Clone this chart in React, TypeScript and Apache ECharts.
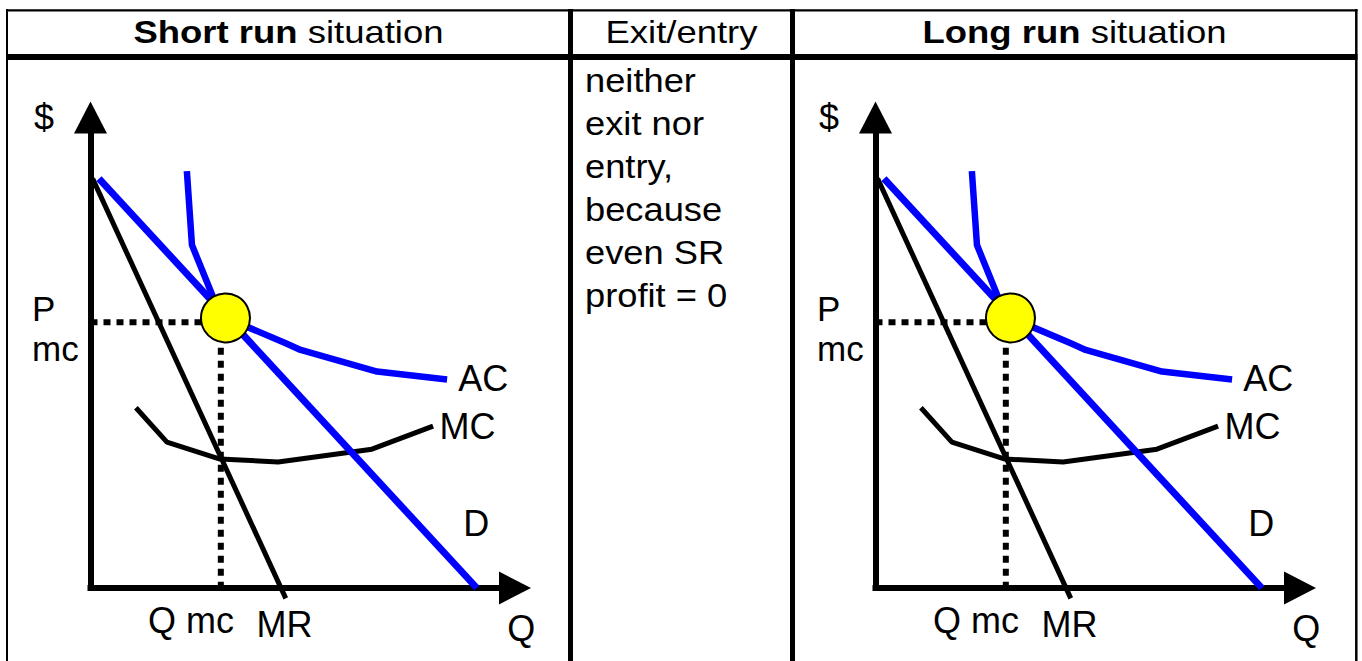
import React, { useEffect, useRef } from "react";
import * as echarts from "echarts";

// ---------- data (Q on x, $ on y; both axes 0..10) ----------
const demandD: number[][] = [[0.2, 8.7], [9.1, 0]];
const marginalRevenueMR: number[][] = [[0.05, 8.7], [4.6, -0.22]];
const averageCostAC: number[][] = [
  [2.27, 8.86], [2.39, 7.29], [2.88, 6.2], [3.17, 5.74], [3.69, 5.55],
  [4.6, 5.2], [4.95, 5.06], [6.75, 4.6], [8.4, 4.43],
];
const marginalCostMC: number[][] = [
  [1.07, 3.83], [1.8, 3.1], [3.05, 2.74], [4.42, 2.68], [6.63, 2.95], [8.07, 3.44],
];
const qMC = 3.07;
const pMC = 5.65;
const equilibrium: number[] = [3.18, 5.74];

const headers = ["Short run", "situation", "Exit/entry", "Long run", "situation"];
const middleLines = ["neither", "exit nor", "entry,", "because", "even SR", "profit = 0"];

// label anchors in data units: [Q, $, text, align, fontSize]
const curveLabels: [number, number, string, string, number][] = [
  [-1.095, 10.01, "$", "center", 36],
  [-1.378, 5.94, "P", "left", 35],
  [-1.378, 5.09, "mc", "left", 35],
  [9.25, 4.45, "AC", "center", 36],
  [8.88, 3.43, "MC", "center", 36],
  [9.09, 1.38, "D", "center", 36],
  [2.37, -0.7, "Q mc", "center", 36],
  [4.57, -0.776, "MR", "center", 36],
  [10.15, -0.87, "Q", "center", 36],
];

const FONT = "'Liberation Sans', Arial, Helvetica, sans-serif";
const BLUE = "#0000ff";

export default function App() {
  const ref = useRef<HTMLDivElement>(null);

  useEffect(() => {
    if (!ref.current) return;
    const chart = echarts.init(ref.current, undefined, { renderer: "svg" });

    const gridTop = 117.5;
    const gridH = 470.5;
    const gridW = 424.5;
    const lefts = [90.5, 875.5];

    const grids = lefts.map((l) => ({ left: l, top: gridTop, width: gridW, height: gridH }));

    const axisLine = {
      show: true,
      symbol: ["none", "triangle"],
      symbolSize: [33, 32],
      lineStyle: { color: "#000", width: 6, cap: "square" },
    };

    const xAxes = lefts.map((_, i) => ({
      type: "value", gridIndex: i, min: 0, max: 10,
      axisLine, axisTick: { show: false }, axisLabel: { show: false }, splitLine: { show: false },
    }));
    const yAxes = lefts.map((_, i) => ({
      type: "value", gridIndex: i, min: 0, max: 10,
      axisLine, axisTick: { show: false }, axisLabel: { show: false }, splitLine: { show: false },
    }));

    const series: any[] = [];
    lefts.forEach((_, i) => {
      const ax = { xAxisIndex: i, yAxisIndex: i };
      series.push(
        {
          type: "line", ...ax, name: "dotted", data: [[0, pMC], [qMC, pMC], [qMC, 0]],
          symbol: "none", clip: false, z: 2,
          lineStyle: { color: "#000", width: 6, type: [7, 6] },
        },
        {
          type: "line", ...ax, name: "MR", data: marginalRevenueMR, symbol: "none", clip: false, z: 3,
          lineStyle: { color: "#000", width: 5 },
        },
        {
          type: "line", ...ax, name: "MC", data: marginalCostMC, symbol: "none", clip: false, z: 3,
          lineStyle: { color: "#000", width: 5 },
        },
        {
          type: "line", ...ax, name: "D", data: demandD, symbol: "none", clip: false, z: 4,
          lineStyle: { color: BLUE, width: 7 },
        },
        {
          type: "line", ...ax, name: "AC", data: averageCostAC, symbol: "none", clip: false, z: 4,
          lineStyle: { color: BLUE, width: 6.5, join: "round" },
        },
        {
          type: "scatter", ...ax, name: "eq", data: [equilibrium], symbol: "circle", symbolSize: 49,
          clip: false, z: 6,
          itemStyle: { color: "#ffff00", borderColor: "#000", borderWidth: 2, opacity: 1 },
        },
        {
          type: "scatter", ...ax, name: "labels", symbolSize: 0, clip: false, z: 7,
          itemStyle: { color: "#000" },
          data: curveLabels.map((c) => ({
            value: [c[0], c[1]],
            label: {
              show: true, formatter: c[2], position: "inside", align: c[3],
              verticalAlign: "middle", color: "#000", fontSize: c[4], fontFamily: FONT,
              lineHeight: c[4], textBorderWidth: 0, textBorderColor: "transparent", opacity: 1,
            },
          })),
        }
      );
    });

    const lineEl = (x1: number, y1: number, x2: number, y2: number, w: number) => ({
      type: "line", shape: { x1, y1, x2, y2 }, style: { stroke: "#000", lineWidth: w }, z: 10,
    });

    const headerStyle = (txt: string) => ({
      text: txt, fill: "#000", fontSize: 32, fontFamily: FONT, align: "center", verticalAlign: "middle",
      rich: { b: { fontWeight: "bold", fontSize: 32, fontFamily: FONT }, n: { fontSize: 32, fontFamily: FONT } },
    });

    const graphic: any[] = [
      lineEl(6, 10.3, 1357.5, 10.3, 2.3),
      lineEl(6, 57, 1357.5, 57, 6),
      lineEl(7, 9, 7, 661, 2),
      lineEl(570.5, 9, 570.5, 661, 5),
      lineEl(792.5, 9, 792.5, 661, 5),
      lineEl(1356.3, 9, 1356.3, 661, 2.5),
      {
        type: "text", x: 288.5, y: 32, scaleX: 1.14, z: 10,
        style: headerStyle(`{b|${headers[0]}}{n| ${headers[1]}}`),
      },
      {
        type: "text", x: 681.5, y: 32, scaleX: 1.14, z: 10,
        style: headerStyle(`{n|${headers[2]}}`),
      },
      {
        type: "text", x: 1074.5, y: 32, scaleX: 1.14, z: 10,
        style: headerStyle(`{b|${headers[3]}}{n| ${headers[4]}}`),
      },
      ...middleLines.map((t, k) => ({
        type: "text", x: 585, y: 81 + 43 * k, scaleX: 1.1, z: 10,
        style: { text: t, fill: "#000", fontSize: 33, fontFamily: FONT, align: "left", verticalAlign: "middle" },
      })),
    ];

    chart.setOption({
      animation: false,
      backgroundColor: "#fff",
      grid: grids,
      xAxis: xAxes,
      yAxis: yAxes,
      series,
      graphic,
    });

    return () => chart.dispose();
  }, []);

  return (
    <div
      ref={ref}
      style={{ position: "fixed", left: 0, top: 0, width: 1362, height: 661, background: "#fff" }}
    />
  );
}
